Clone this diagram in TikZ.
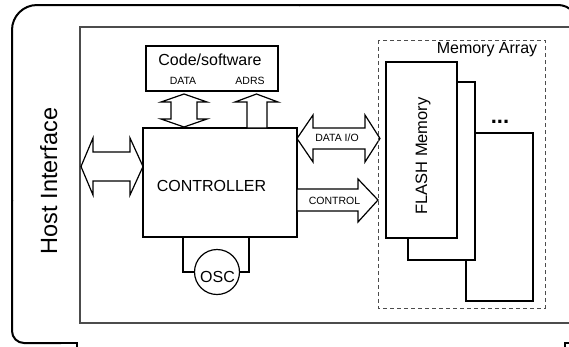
\documentclass[tikz,border=0pt]{standalone}
\usepackage{fontspec}
\setmainfont{Liberation Sans}
\usetikzlibrary{calc}
\usetikzlibrary{positioning}

\tikzset{
  box/.style={draw, line width=1.2pt, fill=white, inner sep=0pt},
  bigtxt/.style={font=\fontsize{16}{18}\selectfont, inner sep=0pt},
  smalltxt/.style={font=\fontsize{10.5}{12}\selectfont, inner sep=0pt},
  blockarrow/.style={draw, line width=1.2pt, fill=white, line join=miter},
  wire/.style={line width=1.2pt},
}

\begin{document}
\begin{tikzpicture}[x=1pt,y=-1pt]
\useasboundingbox (0,0) rectangle (569,346);
\clip (0,0) rectangle (569,346);

% host frame
\draw[line width=2pt] (77,352) -- (77,343) -- (60,343);
\draw[line width=2pt, rounded corners=12] (61,343) -- (12,343) -- (12,200);
\draw[line width=2pt, rounded corners=25] (12,201) -- (12,5) -- (300,5);
\draw[line width=2pt, rounded corners=20] (299,5) -- (578,5) -- (578,40);
\draw[line width=2pt] (565,352) -- (565,343) -- (580,343);
\node[font=\fontsize{23.5}{26}\selectfont, rotate=90, anchor=base] (host) at (57,181) {Host Interface};

% board
\draw[line width=1.3pt, draw=black!70] (80,27) rectangle (600,323);

% controller and code
\node[box, minimum width=154pt, minimum height=109pt] (ctrl) at (220,182.5) {};
\node[bigtxt, anchor=base] (ctrltxt) at (211.5,191) {CONTROLLER};
\node[box, minimum width=132pt, minimum height=45pt] (code) at (212,68.5) {};
\node[bigtxt, anchor=base] (codetxt) at (210,65) {Code/software};
\node[smalltxt, anchor=base] (datatxt) at (183,84) {DATA};
\node[smalltxt, anchor=base] (adrstxt) at (250,84) {ADRS};

% code <-> controller
\draw[blockarrow] (184,94) -- (207,102) -- (197,102) -- (197,119) -- (207,119) -- (184,127)
  -- (161,119) -- (171,119) -- (171,102) -- (161,102) -- cycle;
\draw[blockarrow] (256.5,94) -- (278,102) -- (267,102) -- (267,128) -- (247,128) -- (247,102)
  -- (235,102) -- cycle;

% host <-> controller
\draw[blockarrow] (81,166.5) -- (93,138) -- (93,152) -- (130,152) -- (130,138) -- (143,166.5)
  -- (130,195) -- (130,181) -- (93,181) -- (93,195) -- cycle;

% oscillator
\node[circle, draw, line width=1.2pt, minimum size=45pt, inner sep=0pt, fill=white] (osc) at (217,272) {};
\node[bigtxt, anchor=base] (osctxt) at (217.5,282) {OSC};
\draw[wire] ([xshift=-37pt]ctrl.south) |- (osc.west);
\draw[wire] ([xshift=29pt]ctrl.south) |- (osc.east);

% controller -> memory
\draw[blockarrow] (297,138.5) -- (313,115) -- (313,128) -- (365,128) -- (365,115) -- (380,138.5)
  -- (365,162) -- (365,149) -- (313,149) -- (313,162) -- cycle;
\node[smalltxt] (diotxt) at (337,137.5) {DATA I/O};
\draw[blockarrow] (297,189) -- (358,189) -- (358,179) -- (378,200) -- (358,222) -- (358,211)
  -- (297,211) -- cycle;
\node[smalltxt] (ctltxt) at (334.5,200.5) {CONTROL};

% memory array
\draw[dashed, dash pattern=on 4pt off 3pt, draw=black!70, line width=0.9pt] (378,40) rectangle (545,308);
\node[bigtxt, anchor=base] (memtxt) at (487,53) {Memory Array};
\node[box, line width=1.5pt, minimum width=67pt, minimum height=168pt] (mem3) at (499.5,217) {};
\node[box, line width=1.5pt, minimum width=67pt, minimum height=178pt] (mem2) at (441.5,171) {};
\node[box, minimum width=71pt, minimum height=176pt] (mem1) at (421.5,150) {};
\node[font=\fontsize{16.5}{18}\selectfont, inner sep=0pt, rotate=90, anchor=base] (flashtxt) at (427,156) {FLASH Memory};
\node[font=\fontsize{22}{24}\selectfont\bfseries, inner sep=0pt, anchor=base] (dots) at (500,123.5) {...};

\end{tikzpicture}
\end{document}
